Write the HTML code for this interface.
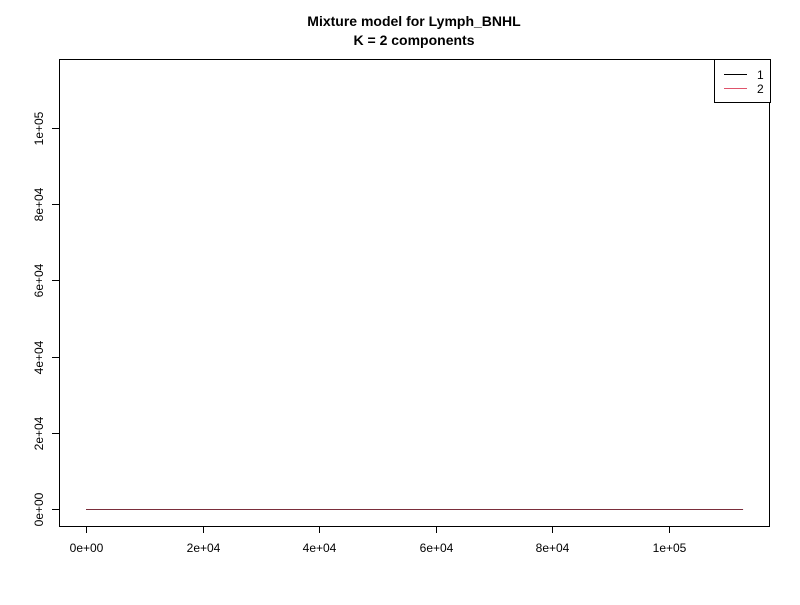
<!DOCTYPE html>
<html><head><meta charset="utf-8"><style>
body{margin:0;background:#fff;}
svg text{font-family:"Liberation Sans",sans-serif;font-size:12px;fill:#000;}
</style></head><body>
<svg id="chart" width="800" height="600" xmlns="http://www.w3.org/2000/svg">
<rect x="0" y="0" width="800" height="600" fill="#fff"/>
<text x="414" y="26" text-anchor="middle" style="font-weight:bold;font-size:14px">Mixture model for Lymph_BNHL</text>
<text x="414" y="45" text-anchor="middle" style="font-weight:bold;font-size:14px">K = 2 components</text>
<rect x="59.5" y="59.5" width="710" height="467" fill="none" stroke="#000"/>
<g id="xaxis"></g>
<g id="yaxis"></g>
<g id="series"></g>
<g>
<rect x="714.5" y="59.5" width="56" height="43" fill="#fff" stroke="#000"/>
<line x1="724" y1="74.5" x2="747" y2="74.5" stroke="#000"/>
<text x="757" y="79">1</text>
<line x1="724" y1="88.5" x2="747" y2="88.5" stroke="#DF536B"/>
<text x="757" y="93">2</text>
</g>
</svg>
<script>
const xTicks=[0,20000,40000,60000,80000,100000];
const xTickLabels=["0e+00","2e+04","4e+04","6e+04","8e+04","1e+05"];
const yTicks=[0,20000,40000,60000,80000,100000];
const yTickLabels=["0e+00","2e+04","4e+04","6e+04","8e+04","1e+05"];
const series1X=[0,112700];
const series1Y=[0,0];
const series2X=[0,112700];
const series2Y=[0,0];
const seriesColors=["#000000","#DF536B"];

const NS="http://www.w3.org/2000/svg";
function xs(v){return 86+v*(669-86)/100000;}
function ys(v){return 509-v*(509-128)/100000;}
function mk(tag,attrs,parent){const e=document.createElementNS(NS,tag);for(const k in attrs)e.setAttribute(k,attrs[k]);parent.appendChild(e);return e;}

const xa=document.getElementById('xaxis');
let l=mk('line',{x1:xs(xTicks[0]),x2:xs(xTicks[xTicks.length-1]),y1:526.5,y2:526.5,stroke:'#000'},xa);


xTicks.forEach((t,i)=>{
  const x=Math.round(xs(t))+0.5;
  const tk=mk('line',{x1:x,x2:x,y1:526,y2:533,stroke:'#000'},xa);
  
  
  const tx=mk('text',{x:x,y:552,'text-anchor':'middle'},xa);
  tx.textContent=xTickLabels[i];
  
  
});
const ya=document.getElementById('yaxis');
l=mk('line',{x1:59.5,x2:59.5,y1:ys(yTicks[0]),y2:ys(yTicks[yTicks.length-1]),stroke:'#000'},ya);


yTicks.forEach((t,i)=>{
  const y=Math.round(ys(t))+0.5;
  const tk=mk('line',{x1:52,x2:59,y1:y,y2:y,stroke:'#000'},ya);
  
  
  const tx=mk('text',{x:0,y:0,'text-anchor':'middle',transform:`translate(43,${y}) rotate(-90)`},ya);
  tx.textContent=yTickLabels[i];
  
  
});
const sg=document.getElementById('series');
[[series1X,series1Y],[series2X,series2Y]].forEach((s,i)=>{
  const pts=s[0].map((x,j)=>xs(x)+','+(ys(s[1][j])+0.5)).join(' ');
  const p=mk('polyline',{points:pts,fill:'none',stroke:seriesColors[i],'stroke-width':1,opacity:i==1?0.55:1},sg);
  
  
});
</script>
</body></html>
